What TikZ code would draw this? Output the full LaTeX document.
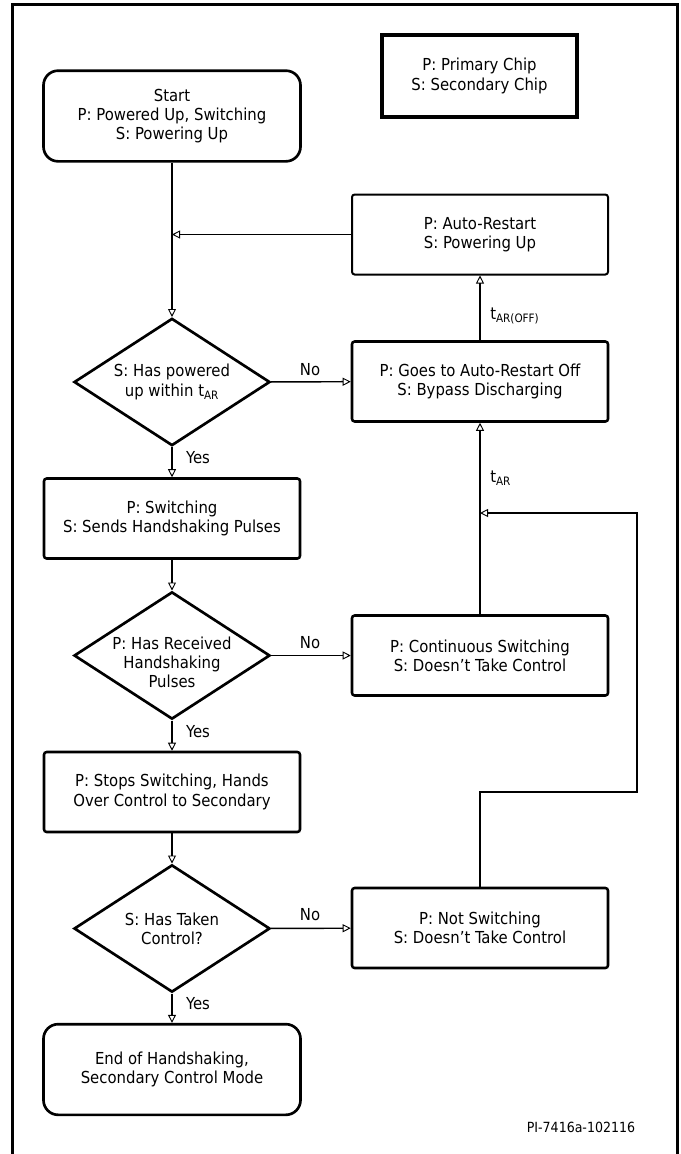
\documentclass[tikz,border=0pt]{standalone}
\usepackage{fontspec}
\setmainfont{DejaVu Sans Condensed}
\usetikzlibrary{shapes.geometric, arrows.meta}

\begin{document}
\begin{tikzpicture}[
									x = 7.5pt,
									y = -7.5pt,
									font = \fontsize{12.4}{14.4}\selectfont,
									fr/.style = {
										draw,
										line width = 2.25pt
									},
									lg/.style = {
										draw,
										rectangle,
										line width = 2.6pt,
										align = center,
										inner sep = 0,
										minimum width = 146.25pt,
										minimum height = 61.5pt
									},
									bx/.style = {
										draw,
										rectangle,
										rounded corners = 2pt,
										line width = 1.9pt,
										align = center,
										inner sep = 0,
										minimum width = 192pt,
										minimum height = 60pt
									},
									rb/.style = {
										draw,
										rectangle,
										rounded corners = 11pt,
										line width = 2pt,
										align = center,
										inner sep = 0,
										minimum width = 192.75pt,
										minimum height = 68pt
									},
									dm/.style = {
										draw,
										diamond,
										line width = 2pt,
										inner sep = 0,
										minimum width = 147pt,
										minimum height = 95.5pt
									},
									ln/.style = {
										line width = 1.1pt,
										-{Triangle[open, length = 6pt, width = 6pt, line width = 0.7pt]}
									},
									lb/.style = {
										inner sep = 0
									}
								]
							\useasboundingbox (0, 0) rectangle (68.1, 115.4);

							\coordinate (fa) at (1.2, 117);
							\coordinate (fb) at (1.2, 0.4);
							\coordinate (fc) at (67.7, 0.4);
							\coordinate (fd) at (67.7, 117);
							\draw [fr] (fa) -- (fb) -- (fc) -- (fd);

							\node [lg] (key) at (47.95, 7.6) {P: Primary Chip\\S: Secondary Chip};

							\node [rb] (start) at (17.2, 11.6) {Start\\P: Powered Up, Switching\\S: Powering Up};
							\node [bx, line width = 1.5pt] (ar) at (48.0, 23.45) {P: Auto-Restart\\S: Powering Up};
							\node [dm] (d1) at (17.2, 38.2) {};
							\node [lb] (d1t) at (d1) [align = center] {S: Has powered\\up within t\textsubscript{AR}};
							\node [bx] (goes) at (48.0, 38.15) {P: Goes to Auto-Restart Off\\S: Bypass Discharging};
							\node [bx] (sw) at (17.2, 51.85) {P: Switching\\S: Sends Handshaking Pulses};
							\node [dm] (d2) at (17.2, 65.55) {};
							\node [lb] (d2t) at (17.2, 66.25) [align = center] {P: Has Received\\Handshaking\\Pulses};
							\node [bx] (cs) at (48.0, 65.55) {P: Continuous Switching\\S: Doesn’t Take Control};
							\node [bx] (stop) at (17.2, 79.2) {P: Stops Switching, Hands\\Over Control to Secondary};
							\node [dm] (d3) at (17.2, 92.85) {};
							\node [lb] (d3t) at (d3) [align = center] {S: Has Taken\\Control?};
							\node [bx] (ns) at (48.0, 92.8) {P: Not Switching\\S: Doesn’t Take Control};
							\node [rb] (end) at (17.2, 106.95) {End of Handshaking,\\Secondary Control Mode};

							\node [lb, font = \fontsize{10.5}{12}\selectfont] (pi) at (58.1, 112.7) {PI-7416a-102116};

							\coordinate (m) at (17.2, 23.45);
							\coordinate (l1) at (48.0, 79.2);
							\coordinate (l2) at (63.7, 79.2);
							\coordinate (l3) at (63.7, 51.3);
							\coordinate (l4) at (48.0, 51.3);

							\draw [ln] (start) -- (d1);
							\draw [ln] (ar) -- (m);
							\draw [ln] (d1) -- (goes);
							\draw [ln] (goes) -- (ar);
							\draw [ln] (d1) -- (sw);
							\draw [ln] (sw) -- (d2);
							\draw [ln] (d2) -- (cs);
							\draw [ln] (cs) -- (goes);
							\draw [ln] (d2) -- (stop);
							\draw [ln] (stop) -- (d3);
							\draw [ln] (d3) -- (ns);
							\draw [ln] (d3) -- (end);
							\draw [ln] (ns) -- (l1) -- (l2) -- (l3) -- (l4);

							\node [lb] (no1) at (31.0, 37.0) {No};
							\node [lb] (no2) at (31.0, 64.3) {No};
							\node [lb] (no3) at (31.0, 91.5) {No};
							\node [lb] (yes1) at (19.8, 45.8) {Yes};
							\node [lb] (yes2) at (19.8, 73.2) {Yes};
							\node [lb] (yes3) at (19.8, 100.4) {Yes};
							\node [lb, anchor = west] (toff) at (49.0, 31.6) {t\textsubscript{AR(OFF)}};
							\node [lb, anchor = west] (tar) at (49.0, 47.8) {t\textsubscript{AR}};
						\end{tikzpicture}
\end{document}
